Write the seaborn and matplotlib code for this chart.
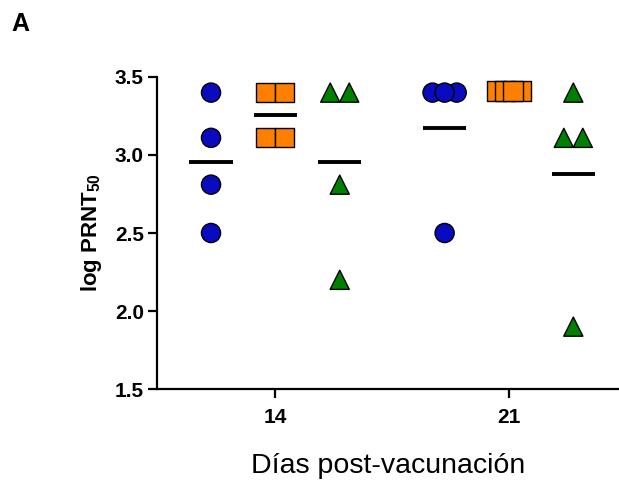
import numpy as np
import pandas as pd
import seaborn as sns
import matplotlib.pyplot as plt

# values (log PRNT50 per animal)
days = ['14', '21']
groups = ['azul', 'naranja', 'verde']
azul_14 = [3.40, 3.11, 2.81, 2.50]
naranja_14 = [3.40, 3.40, 3.11, 3.11]
verde_14 = [3.40, 3.40, 2.81, 2.20]
azul_21 = [3.40, 3.40, 3.40, 2.50]
naranja_21 = [3.41, 3.41, 3.41, 3.41]
verde_21 = [3.40, 3.11, 3.11, 1.90]

colors = {'azul': '#0A0ABF', 'naranja': '#FF8000', 'verde': '#008000'}
markers = {'azul': 'o', 'naranja': 's', 'verde': '^'}

values = {
    ('14', 'azul'): azul_14, ('14', 'naranja'): naranja_14, ('14', 'verde'): verde_14,
    ('21', 'azul'): azul_21, ('21', 'naranja'): naranja_21, ('21', 'verde'): verde_21,
}

day_gap = 3.63      # distance between day blocks, in group slots
mk_w = 0.295        # marker width in x units
max_w = 0.67        # max width of a row of tied points

rows = []
for di, d in enumerate(days):
    for gi, g in enumerate(groups):
        center = di * day_gap + gi
        vals = np.array(values[(d, g)])
        for v in np.unique(vals):
            n = int((vals == v).sum())
            step = mk_w if n < 2 else min(mk_w, (max_w - mk_w) / (n - 1))
            for k in range(n):
                rows.append({'dia': d, 'grupo': g, 'center': center,
                             'x': center + (k - (n - 1) / 2) * step, 'val': v})
df = pd.DataFrame(rows)
# outer points first so the central one sits on top
df['off'] = (df['x'] - df['center']).abs()
df = df.sort_values('off', ascending=False, kind='stable')

sns.set_style('ticks')
plt.rcParams['font.family'] = ['Liberation Sans', 'DejaVu Sans']
plt.rcParams['mathtext.fontset'] = 'custom'
plt.rcParams['mathtext.rm'] = 'Liberation Sans:bold'
plt.rcParams['text.color'] = 'black'
plt.rcParams['axes.labelcolor'] = 'black'

fig = plt.figure(figsize=(6.19, 4.87), dpi=100)
ax = fig.add_axes([0.2536, 0.2012, 0.7464, 0.6407])

# mean lines
means = df.groupby(['dia', 'grupo'])[['center', 'val']].mean().reset_index()
ax.hlines(means['val'], means['center'] - 0.335, means['center'] + 0.335,
          color='black', lw=2.8, zorder=1)

sns.scatterplot(data=df, x='x', y='val', hue='grupo', style='grupo',
                palette=colors, markers=markers, s=190, edgecolor='black',
                linewidth=1, legend=False, zorder=2, ax=ax, clip_on=False)

ax.set_xlim(-0.84, 6.34)
ax.set_ylim(1.5, 3.5)
ax.set_yticks([1.5, 2.0, 2.5, 3.0, 3.5])
ax.set_xticks([1, day_gap + 1])
ax.set_xticklabels(days)
for s in ['top', 'right']:
    ax.spines[s].set_visible(False)
for s in ['left', 'bottom']:
    ax.spines[s].set_linewidth(1.6)
    ax.spines[s].set_color('black')
ax.tick_params(width=1.6, length=6.5, labelsize=15, colors='black')
ax.tick_params(axis='y', pad=3)
ax.tick_params(axis='x', pad=7)
for lab in ax.get_xticklabels() + ax.get_yticklabels():
    lab.set_fontweight('bold')

ax.set_ylabel(r'log PRNT$_{\rm 50}$', fontsize=16, fontweight='bold', labelpad=8)
ax.set_xlabel('Días post-vacunación', fontsize=20.5, labelpad=19)
fig.text(0.018, 0.975, 'A', fontsize=18, fontweight='bold', va='top')

fig.savefig('out.png', dpi=100)
